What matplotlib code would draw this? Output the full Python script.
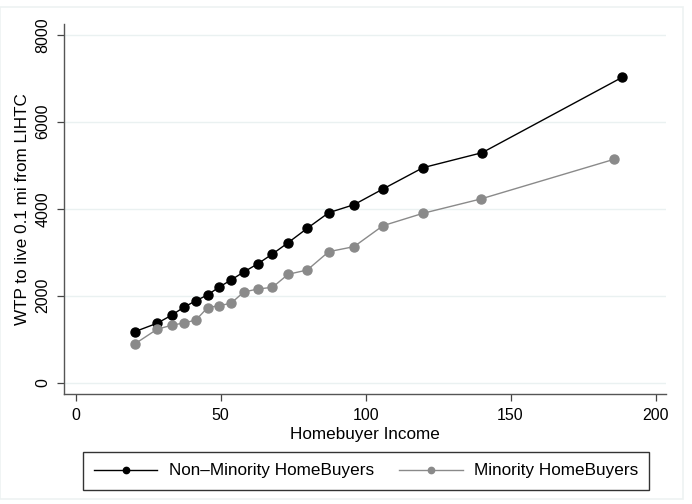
import numpy as np
import matplotlib.pyplot as plt
from matplotlib.patches import Rectangle

plt.rcParams['font.family'] = ['Liberation Sans', 'DejaVu Sans']

# Homebuyer income (x) and WTP values
income_nonmin = [20.4, 28.1, 33.1, 37.3, 41.5, 45.5, 49.4, 53.6, 58.0, 62.9,
                 67.9, 73.3, 79.9, 87.3, 96.0, 106.0, 119.8, 140.2, 188.5]
wtp_nonmin = [1172, 1366, 1550, 1733, 1885, 2016, 2193, 2361, 2545, 2736,
              2959, 3219, 3550, 3908, 4092, 4453, 4943, 5288, 7021]

income_min = [20.4, 28.1, 33.1, 37.3, 41.5, 45.5, 49.4, 53.6, 58.0, 62.9,
              67.9, 73.3, 79.9, 87.3, 96.0, 106.0, 119.8, 139.7, 185.7]
wtp_min = [890, 1228, 1320, 1372, 1441, 1724, 1770, 1825, 2085, 2154,
           2193, 2492, 2591, 3012, 3127, 3609, 3894, 4223, 5136]

xticks = [0, 50, 100, 150, 200]
yticks = [0, 2000, 4000, 6000, 8000]

fig = plt.figure(figsize=(6.92, 5.04), dpi=100)

# faint outer frame like Stata's graph region
fig.patches.append(Rectangle((0.0, 0.01), 683 / 692, 1 - 6.7 / 504 - 0.01,
                             transform=fig.transFigure, fill=False,
                             edgecolor='#edf2f2', linewidth=1.2))

ax = fig.add_axes([0.0929, 0.2177, 0.8695, 0.7341])

ax.plot(income_nonmin, wtp_nonmin, color='black', marker='o', markersize=6.5,
        linewidth=1.0, label='Non\u2013Minority HomeBuyers')
ax.plot(income_min, wtp_min, color='#8a8a8a', marker='o', markersize=6.5,
        linewidth=1.0, label='Minority HomeBuyers')

ax.set_xlim(-3.9, 203.6)
ax.set_ylim(-267, 8240)
ax.set_xticks(xticks)
ax.set_yticks(yticks)
ax.tick_params(axis='both', direction='out', length=5, width=0.9,
               color='#444444', labelsize=11.5, pad=5)
plt.setp(ax.get_yticklabels(), rotation=90, va='center')

ax.yaxis.grid(True, color='#eaf1f1', linewidth=1.0)
ax.set_axisbelow(True)

for side in ['top', 'right']:
    ax.spines[side].set_visible(False)
for side in ['left', 'bottom']:
    ax.spines[side].set_color('#555555')
    ax.spines[side].set_linewidth(1.0)

ax.set_xlabel('Homebuyer Income', fontsize=12.3, labelpad=3)
ax.set_ylabel('WTP to live 0.1 mi from LIHTC', fontsize=12.3, labelpad=4)

leg = fig.legend(loc='center', bbox_to_anchor=(0.529, 0.0655), ncol=2,
                 fontsize=12.3, frameon=True, fancybox=False,
                 edgecolor='black', handlelength=3.7, markerscale=0.7,
                 columnspacing=1.5, borderpad=0.65, handletextpad=0.65)
leg.get_frame().set_linewidth(1.0)

fig.savefig('out.png', dpi=100)
